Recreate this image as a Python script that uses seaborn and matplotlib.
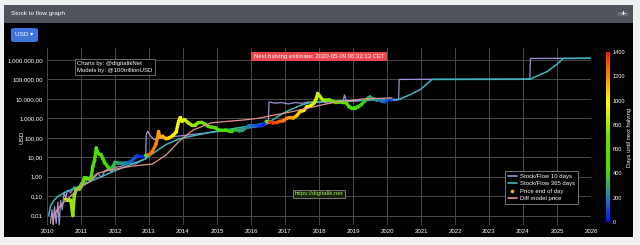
import numpy as np
import pandas as pd
import matplotlib
matplotlib.use('Agg')
import matplotlib.pyplot as plt
import seaborn as sns
from matplotlib.collections import LineCollection
from matplotlib.colors import LinearSegmentedColormap, Normalize
from matplotlib.cm import ScalarMappable
from matplotlib.lines import Line2D
from matplotlib.patches import FancyBboxPatch, Rectangle, Circle

# ---------------- data ----------------
price_t = [2010.55, 2010.60, 2010.65, 2010.70, 2010.76, 2010.80, 2010.85, 2010.90, 2010.95, 2011.00,
           2011.05, 2011.10, 2011.15, 2011.20, 2011.25, 2011.30, 2011.35, 2011.40, 2011.45, 2011.50,
           2011.55, 2011.60, 2011.65, 2011.70, 2011.75, 2011.80, 2011.88, 2011.95, 2012.00, 2012.10,
           2012.20, 2012.30, 2012.40, 2012.50, 2012.60, 2012.65, 2012.70, 2012.80, 2012.90, 2013.00,
           2013.10, 2013.20, 2013.25, 2013.28, 2013.32, 2013.40, 2013.50, 2013.60, 2013.70, 2013.80,
           2013.87, 2013.92, 2013.97, 2014.05, 2014.15, 2014.25, 2014.35, 2014.45, 2014.55, 2014.65,
           2014.75, 2014.85, 2014.95, 2015.05, 2015.15, 2015.25, 2015.35, 2015.45, 2015.55, 2015.65,
           2015.75, 2015.85, 2015.95, 2016.05, 2016.15, 2016.25, 2016.35, 2016.45, 2016.55, 2016.65,
           2016.75, 2016.85, 2016.95, 2017.05, 2017.15, 2017.25, 2017.35, 2017.45, 2017.55, 2017.65,
           2017.75, 2017.85, 2017.92, 2017.96, 2018.02, 2018.10, 2018.20, 2018.30, 2018.40, 2018.50,
           2018.60, 2018.70, 2018.80, 2018.88, 2018.95, 2019.05, 2019.15, 2019.25, 2019.35, 2019.45,
           2019.50, 2019.55, 2019.62, 2019.70, 2019.78, 2019.86, 2019.93, 2020.00, 2020.07, 2020.13]
price_v = [0.07, 0.06, 0.065, 0.06, 0.01, 0.1, 0.2, 0.25, 0.23, 0.3,
           0.45, 0.9, 0.9, 0.8, 0.75, 1.0, 3.5, 7.0, 30.0, 16.0,
           14.0, 13.0, 8.0, 5.0, 4.0, 3.0, 2.5, 3.5, 5.5, 5.0,
           4.9, 5.0, 5.2, 6.7, 10.0, 12.0, 11.0, 11.0, 12.5, 13.5,
           20.0, 45.0, 100.0, 210.0, 110.0, 120.0, 90.0, 100.0, 130.0, 200.0,
           700.0, 1100.0, 700.0, 850.0, 600.0, 450.0, 450.0, 600.0, 620.0, 500.0,
           380.0, 350.0, 330.0, 250.0, 240.0, 250.0, 230.0, 230.0, 270.0, 230.0,
           240.0, 330.0, 420.0, 400.0, 420.0, 415.0, 450.0, 700.0, 650.0, 580.0,
           610.0, 700.0, 750.0, 1000.0, 1100.0, 1050.0, 1400.0, 2300.0, 2500.0, 4000.0,
           4300.0, 6000.0, 10000.0, 19000.0, 14000.0, 9000.0, 8500.0, 9000.0, 7500.0, 6500.0,
           7000.0, 6500.0, 6400.0, 4000.0, 3500.0, 3500.0, 3900.0, 5200.0, 8000.0, 11000.0,
           12500.0, 10500.0, 10000.0, 8500.0, 9200.0, 7500.0, 7200.0, 8500.0, 10000.0, 8800.0]

halvings = [2012.91, 2016.52, 2020.36]

sf10_t = [2010.10, 2010.15, 2010.18, 2010.22, 2010.27, 2010.32, 2010.36, 2010.40, 2010.45, 2010.50,
          2010.55, 2010.60, 2010.70, 2010.80, 2010.90, 2011.00, 2011.10, 2011.20, 2011.30, 2011.40,
          2011.50, 2011.60, 2011.70, 2011.80, 2011.90, 2012.00, 2012.20, 2012.40, 2012.60, 2012.80,
          2012.90, 2012.92, 2012.96, 2013.05, 2013.15, 2013.25, 2013.40, 2013.60, 2013.80, 2014.00,
          2014.30, 2014.60, 2014.90, 2015.20, 2015.50, 2015.80, 2016.10, 2016.40, 2016.51, 2016.53,
          2016.70, 2016.90, 2017.10, 2017.30, 2017.50, 2017.70, 2017.90, 2018.10, 2018.30, 2018.50,
          2018.70, 2018.75, 2018.80, 2019.00, 2019.20, 2019.40, 2019.60, 2019.80, 2020.00, 2020.20,
          2020.34, 2020.36, 2021.32, 2024.20, 2024.22, 2026.00]
sf10_v = [0.004, 0.02, 0.003, 0.03, 0.004, 0.05, 0.003, 0.06, 0.02, 0.15,
          0.08, 0.2, 0.15, 0.3, 0.25, 0.5, 0.4, 0.8, 0.6, 1.2,
          1.5, 0.9, 2.0, 2.5, 1.8, 3.0, 3.5, 5.0, 4.5, 7.0,
          8.0, 150.0, 220.0, 120.0, 80.0, 100.0, 90.0, 110.0, 120.0, 130.0,
          150.0, 170.0, 200.0, 220.0, 250.0, 300.0, 350.0, 450.0, 550.0, 7000.0,
          6000.0, 6500.0, 5500.0, 6500.0, 6000.0, 7000.0, 6500.0, 7000.0, 6000.0, 7500.0,
          7000.0, 16000.0, 7500.0, 7500.0, 8000.0, 8500.0, 9000.0, 8000.0, 9000.0, 8500.0,
          9000.0, 100000.0, 102000.0, 105000.0, 1200000.0, 1230000.0]

sf365_t = [2010.05, 2010.10, 2010.20, 2010.30, 2010.50, 2010.80, 2011.00, 2011.30, 2011.60, 2011.90,
           2012.20, 2012.50, 2012.91, 2013.20, 2013.50, 2013.90, 2014.50, 2015.00, 2015.50, 2016.00,
           2016.52, 2016.80, 2017.10, 2017.50, 2017.80, 2018.50, 2019.00, 2019.50, 2020.00, 2020.36,
           2020.70, 2021.00, 2021.32, 2024.20, 2024.70, 2025.00, 2025.18, 2026.00]
sf365_v = [0.01, 0.03, 0.06, 0.09, 0.15, 0.25, 0.35, 0.6, 1.0, 1.7,
           2.8, 4.5, 8.5, 20.0, 45.0, 90.0, 150.0, 220.0, 300.0, 420.0,
           600.0, 1300.0, 2500.0, 5000.0, 6800.0, 7800.0, 8300.0, 8800.0, 9200.0, 9500.0,
           17000.0, 32000.0, 100000.0, 102000.0, 250000.0, 600000.0, 1200000.0, 1230000.0]

diff_t = [2010.18, 2010.20, 2010.30, 2010.50, 2010.80, 2011.00, 2011.30, 2011.50, 2011.85, 2012.50,
          2013.10, 2013.50, 2013.90, 2014.30, 2014.83, 2015.30, 2015.81, 2016.20, 2016.57, 2017.20,
          2017.73, 2018.10, 2018.52, 2019.00, 2019.30, 2019.70, 2019.97, 2020.15]
diff_v = [0.003, 0.01, 0.02, 0.05, 0.15, 0.3, 0.6, 1.5, 2.2, 3.5,
          4.5, 13.0, 70.0, 250.0, 590.0, 700.0, 830.0, 1000.0, 1350.0, 2200.0,
          3500.0, 5000.0, 7000.0, 8500.0, 10000.0, 10500.0, 11000.0, 11000.0]

year_ticks = list(range(2010, 2027))
y_ticks = [0.01, 0.1, 1, 10, 100, 1e3, 1e4, 1e5, 1e6]
y_tick_labels = ['0,01', '0,10', '1,00', '10,00', '100,00', '1.000,00',
                 '10.000,00', '100.000,00', '1.000.000,00']
cbar_ticks = [0, 200, 400, 600, 800, 1000, 1200, 1400]

series_names = ['Stock/Flow 10 days', 'Stock/Flow 365 days', 'Price end of day', 'Diff model price']

# ---------------- style ----------------
W, H = 640, 245
sns.set_theme(style='darkgrid', rc={
    'axes.facecolor': 'black', 'grid.color': '#4a4a4a', 'grid.linewidth': 0.7,
    'xtick.color': 'white', 'ytick.color': 'white', 'text.color': 'white',
    'axes.labelcolor': 'white', 'axes.edgecolor': 'black'})
plt.rcParams['font.family'] = ['Liberation Sans', 'DejaVu Sans']

C10 = '#9d93d4'
C365 = '#3cb6bc'
CDIFF = '#e4938f'
cmap = LinearSegmentedColormap.from_list('halv', [
    (0.0, '#0010ff'), (0.14, '#1c7fb8'), (0.3, '#3ee000'), (0.5, '#66e000'),
    (0.7, '#ffff00'), (0.86, '#ff8c00'), (1.0, '#ff1a00')])
norm = Normalize(0, 1400)


def fx(x):
    return x / W


def fy(y):
    return 1 - y / H


fig = plt.figure(figsize=(6.4, 2.45), dpi=100, facecolor='#eff0f2')

# card chrome
fig.add_artist(Rectangle((fx(4), fy(237)), fx(633) - fx(4), fy(23) - fy(237),
                         transform=fig.transFigure, facecolor='black', edgecolor='none', zorder=-2))
fig.add_artist(Rectangle((fx(4), fy(23)), fx(633) - fx(4), fy(5) - fy(23),
                         transform=fig.transFigure, facecolor='#50535b', edgecolor='none', zorder=-2))
fig.text(fx(11), fy(14), 'Stock to flow graph', fontsize=4.6, color='white', va='center', ha='left')
fig.add_artist(Circle((fx(623), fy(14)), 6 / W, transform=fig.transFigure,
                      facecolor='#686b73', edgecolor='none', zorder=-1))
fig.text(fx(623), fy(14.3), '+', fontsize=6, color='white', ha='center', va='center', weight='bold')
fig.add_artist(FancyBboxPatch((fx(11), fy(42)), fx(38) - fx(11), fy(28) - fy(42),
                              boxstyle='round,pad=0,rounding_size=0.006',
                              transform=fig.transFigure, facecolor='#3f74dc', edgecolor='none', zorder=-1))
fig.text(fx(24.5), fy(35), 'USD \u25be', fontsize=4.6, color='white', ha='center', va='center')

# ---------------- main axes ----------------
ax = fig.add_axes([fx(47), fy(225), fx(591) - fx(47), fy(48) - fy(225)])
ax.set_facecolor('black')
ax.set_yscale('log')

sns.lineplot(x=sf10_t, y=sf10_v, ax=ax, color=C10, lw=0.9, estimator=None, sort=False)
sns.lineplot(x=sf365_t, y=sf365_v, ax=ax, color=C365, lw=1.1, estimator=None, sort=False)

pt = np.array(price_t)
pv = np.array(price_v)
days = np.array([(min(h for h in halvings if h > t) - t) * 365.25 for t in pt])
pts = np.column_stack([pt, pv])
segs = np.stack([pts[:-1], pts[1:]], axis=1)
lc = LineCollection(segs, cmap=cmap, norm=norm, linewidths=2.4, capstyle='round')
lc.set_array((days[:-1] + days[1:]) / 2)
ax.add_collection(lc)
sns.scatterplot(x=pt, y=pv, hue=days, palette=cmap, hue_norm=norm, s=5, linewidth=0,
                legend=False, ax=ax)

sns.lineplot(x=diff_t, y=diff_v, ax=ax, color=CDIFF, lw=0.9, estimator=None, sort=False)

ax.set_xlim(2010, 2026)
ax.set_ylim(10 ** -2.483, 10 ** 6.617)
ax.set_xticks(year_ticks)
ax.set_xticklabels([str(y) for y in year_ticks], fontsize=4.4)
ax.set_yticks(y_ticks)
ax.set_yticklabels(y_tick_labels, fontsize=4.4)
ax.minorticks_off()
ax.tick_params(axis='both', length=0, pad=3)
ax.grid(True, color='#4a4a4a', lw=0.7)
for s in ax.spines.values():
    s.set_visible(False)
ax.set_ylabel('')
ax.set_xlabel('')
fig.text(fx(22), fy(137), 'USD', fontsize=4.6, color='white', rotation=90,
         ha='center', va='center')

handles = [Line2D([], [], color=C10, lw=1.2),
           Line2D([], [], color=C365, lw=1.2),
           Line2D([], [], color='#f5b800', lw=0, marker='o', markersize=1.6),
           Line2D([], [], color=CDIFF, lw=1.2)]
leg = ax.legend(handles, series_names, loc='lower right', bbox_to_anchor=(0.982, 0.102),
                fontsize=4.3, frameon=True, facecolor='black', edgecolor='#888888',
                framealpha=1, fancybox=False, handlelength=1.6, handletextpad=0.5,
                borderpad=0.5, labelspacing=0.35)
leg.get_frame().set_linewidth(0.6)
for t in leg.get_texts():
    t.set_color('white')

# annotations
fig.text(fx(77), fy(67), 'Charts by: @digitalikNet\nModels by: @100trillionUSD', fontsize=4.3,
         color='white', ha='left', va='center', linespacing=1.4,
         bbox=dict(facecolor='black', edgecolor='#777777', lw=0.6, pad=1.6))
fig.text(fx(319), fy(56.5), 'Next halving estimate: 2020-05-09 06:32:13 CET', fontsize=4.3,
         color='white', ha='center', va='center',
         bbox=dict(facecolor='#e8454c', edgecolor='none', pad=1.6))
fig.text(fx(319), fy(194), 'https://digitalik.net', fontsize=4.3, color='#a6e05c',
         ha='center', va='center',
         bbox=dict(facecolor='#16240e', edgecolor='#888888', lw=0.6, pad=1.4))

# colorbar
cax = fig.add_axes([fx(606), fy(222), 4 / W, 170 / H])
cb = fig.colorbar(ScalarMappable(norm=norm, cmap=cmap), cax=cax)
cb.outline.set_visible(False)
cb.set_ticks(cbar_ticks)
cb.ax.set_yticklabels([str(v) for v in cbar_ticks], fontsize=4.1, color='white')
cb.ax.tick_params(length=0, pad=2)
fig.text(fx(629), fy(137), 'Days until next halving', fontsize=4.2, color='white',
         rotation=90, ha='center', va='center')

fig.savefig('out.png', dpi=100, facecolor=fig.get_facecolor())
